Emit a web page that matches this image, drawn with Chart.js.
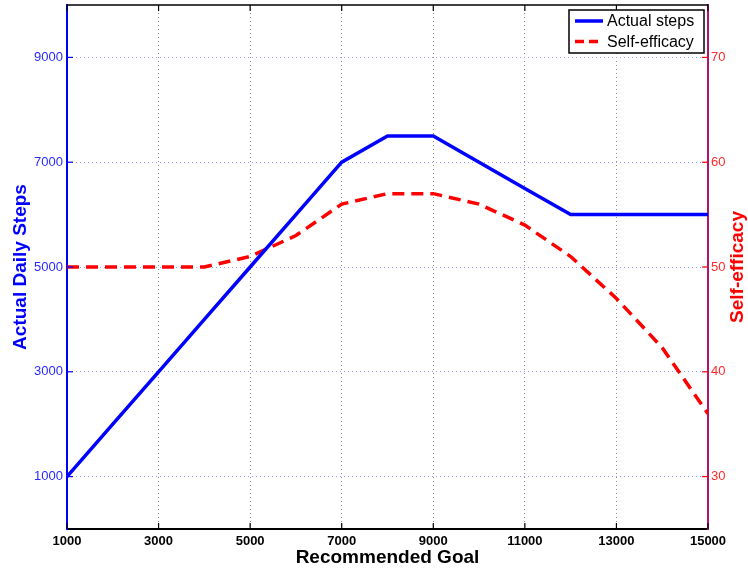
<!DOCTYPE html>
<html lang="en">
<head>
    <meta charset="UTF-8">
    <title>Recommended Goal vs Steps and Self-efficacy</title>
    <script src="https://cdn.jsdelivr.net/npm/chart.js"></script>
    <style>
        html, body { margin: 0; padding: 0; background: #fff; }
        canvas { display: block; }
    </style>
</head>
<body>
    <canvas id="goalChart" width="748" height="569"></canvas>
    <script>
        // recommended goal (x) and the two measured series
        const goals = [1000, 2000, 3000, 4000, 5000, 6000, 7000, 8000, 9000, 10000, 11000, 12000, 13000, 14000, 15000];
        const actualSteps = [1000, 2000, 3000, 4000, 5000, 6000, 7000, 7500, 7500, 7000, 6500, 6000, 6000, 6000, 6000];
        const selfEfficacy = [50, 50, 50, 50, 51, 53, 56, 57, 57, 56, 54, 51, 47, 42.3, 36];

        const xTicks = [1000, 3000, 5000, 7000, 9000, 11000, 13000, 15000];
        const stepTicks = [1000, 3000, 5000, 7000, 9000];
        const efficacyTicks = [30, 40, 50, 60, 70];

        const FONT = "'Liberation Sans', Arial, Helvetica, sans-serif";
        const BLUE = '#0000ff';
        const RED = '#ff0000';
        const RIGHT_AXIS = '#b3126f';

        const toPoints = (ys) => goals.map((g, i) => ({ x: g, y: ys[i] }));

        // vertical scales would otherwise reserve half a label of room above the plot
        const noVPad = (scale) => { scale.paddingTop = 0; scale.paddingBottom = 0; };

        // frame, inward tick marks, right-hand title and boxed legend
        const matlabDecor = {
            id: 'matlabDecor',
            afterDraw(chart) {
                const ctx = chart.ctx;
                const area = chart.chartArea;
                const sx = chart.scales.x;
                const sl = chart.scales.ySteps;
                const sr = chart.scales.yEff;
                ctx.save();

                // top edge of the box
                ctx.strokeStyle = '#000';
                ctx.lineWidth = 1.5;
                ctx.beginPath();
                ctx.moveTo(area.left, area.top);
                ctx.lineTo(area.right, area.top);
                ctx.stroke();

                const len = 6;
                ctx.lineWidth = 1.2;
                ctx.strokeStyle = '#000';
                xTicks.forEach(v => {
                    const px = sx.getPixelForValue(v);
                    ctx.beginPath();
                    ctx.moveTo(px, area.bottom); ctx.lineTo(px, area.bottom - len);
                    ctx.moveTo(px, area.top); ctx.lineTo(px, area.top + len);
                    ctx.stroke();
                });
                ctx.strokeStyle = BLUE;
                stepTicks.forEach(v => {
                    const py = sl.getPixelForValue(v);
                    ctx.beginPath();
                    ctx.moveTo(area.left, py); ctx.lineTo(area.left + len, py);
                    ctx.stroke();
                });
                ctx.strokeStyle = RED;
                efficacyTicks.forEach(v => {
                    const py = sr.getPixelForValue(v);
                    ctx.beginPath();
                    ctx.moveTo(area.right, py); ctx.lineTo(area.right - len, py);
                    ctx.stroke();
                });

                // right axis title, reading bottom to top
                ctx.fillStyle = RED;
                ctx.font = 'bold 19px ' + FONT;
                ctx.textAlign = 'center';
                ctx.textBaseline = 'middle';
                ctx.translate(738, (area.top + area.bottom) / 2);
                ctx.rotate(-Math.PI / 2);
                ctx.fillText(sr.options.title.text, 0, 0);
                ctx.setTransform(1, 0, 0, 1, 0, 0);

                // legend box
                const bx = 569, by = 10, bw = 135, bh = 43;
                ctx.fillStyle = '#fff';
                ctx.fillRect(bx, by, bw, bh);
                ctx.strokeStyle = '#000';
                ctx.lineWidth = 1.5;
                ctx.strokeRect(bx, by, bw, bh);
                ctx.font = '16px ' + FONT;
                ctx.textAlign = 'left';
                chart.data.datasets.forEach((ds, i) => {
                    const y = by + 11 + i * 20.5;
                    ctx.strokeStyle = ds.borderColor;
                    ctx.lineWidth = ds.borderWidth;
                    ctx.setLineDash(ds.borderDash ? [9, 5] : []);
                    ctx.beginPath();
                    ctx.moveTo(bx + 6, y); ctx.lineTo(bx + 34, y);
                    ctx.stroke();
                    ctx.setLineDash([]);
                    ctx.fillStyle = '#000';
                    ctx.fillText(ds.label, bx + 38, y + 1);
                });
                ctx.restore();
            }
        };

        new Chart(document.getElementById('goalChart'), {
            type: 'line',
            data: {
                datasets: [
                    {
                        label: 'Actual steps',
                        data: toPoints(actualSteps),
                        yAxisID: 'ySteps',
                        borderColor: BLUE,
                        borderWidth: 3.5,
                        pointRadius: 0,
                        tension: 0
                    },
                    {
                        label: 'Self-efficacy',
                        data: toPoints(selfEfficacy),
                        yAxisID: 'yEff',
                        borderColor: RED,
                        borderWidth: 3.5,
                        borderDash: [12, 7],
                        pointRadius: 0,
                        tension: 0
                    }
                ]
            },
            plugins: [matlabDecor],
            options: {
                responsive: false,
                animation: false,
                devicePixelRatio: 1,
                layout: { padding: { top: 5, left: 0, right: 0, bottom: 0 } },
                plugins: {
                    legend: { display: false },
                    tooltip: { enabled: false }
                },
                scales: {
                    x: {
                        type: 'linear',
                        min: 1000,
                        max: 15000,
                        afterFit(scale) { scale.height = 40; },
                        afterBuildTicks(scale) { scale.ticks = xTicks.map(v => ({ value: v })); },
                        ticks: {
                            color: '#000',
                            padding: 5,
                            maxRotation: 0,
                            autoSkip: false,
                            font: { family: FONT, size: 13, weight: 'bold' },
                            callback: v => String(v)
                        },
                        grid: { color: '#8c8c8c', lineWidth: 1, drawTicks: false },
                        border: { color: '#000', width: 2, dash: [1, 3] },
                        title: {
                            display: true,
                            text: 'Recommended Goal',
                            color: '#000',
                            padding: { top: 0, bottom: 0 },
                            font: { family: FONT, size: 19, weight: 'bold' }
                        }
                    },
                    ySteps: {
                        type: 'linear',
                        position: 'left',
                        min: 0,
                        max: 10000,
                        afterFit(scale) { scale.width = 67; noVPad(scale); },
                        afterBuildTicks(scale) { scale.ticks = stepTicks.map(v => ({ value: v })); },
                        ticks: {
                            color: '#2a2aff',
                            padding: 4,
                            autoSkip: false,
                            font: { family: FONT, size: 13 },
                            callback: v => String(v)
                        },
                        grid: { color: '#9c9cff', lineWidth: 1, drawTicks: false },
                        border: { color: BLUE, width: 2, dash: [1, 3] },
                        title: {
                            display: true,
                            text: 'Actual Daily Steps',
                            color: BLUE,
                            padding: { top: 9, bottom: 0 },
                            font: { family: FONT, size: 19, weight: 'bold' }
                        }
                    },
                    yEff: {
                        type: 'linear',
                        position: 'right',
                        min: 25,
                        max: 75,
                        afterFit(scale) { scale.width = 40; noVPad(scale); },
                        afterBuildTicks(scale) { scale.ticks = efficacyTicks.map(v => ({ value: v })); },
                        ticks: {
                            color: '#ff2a2a',
                            padding: 3,
                            autoSkip: false,
                            font: { family: FONT, size: 13 },
                            callback: v => String(v)
                        },
                        grid: { display: false, drawTicks: false },
                        border: { color: RIGHT_AXIS, width: 2 },
                        title: { display: false, text: 'Self-efficacy' }
                    }
                }
            }
        });
    </script>
</body>
</html>
